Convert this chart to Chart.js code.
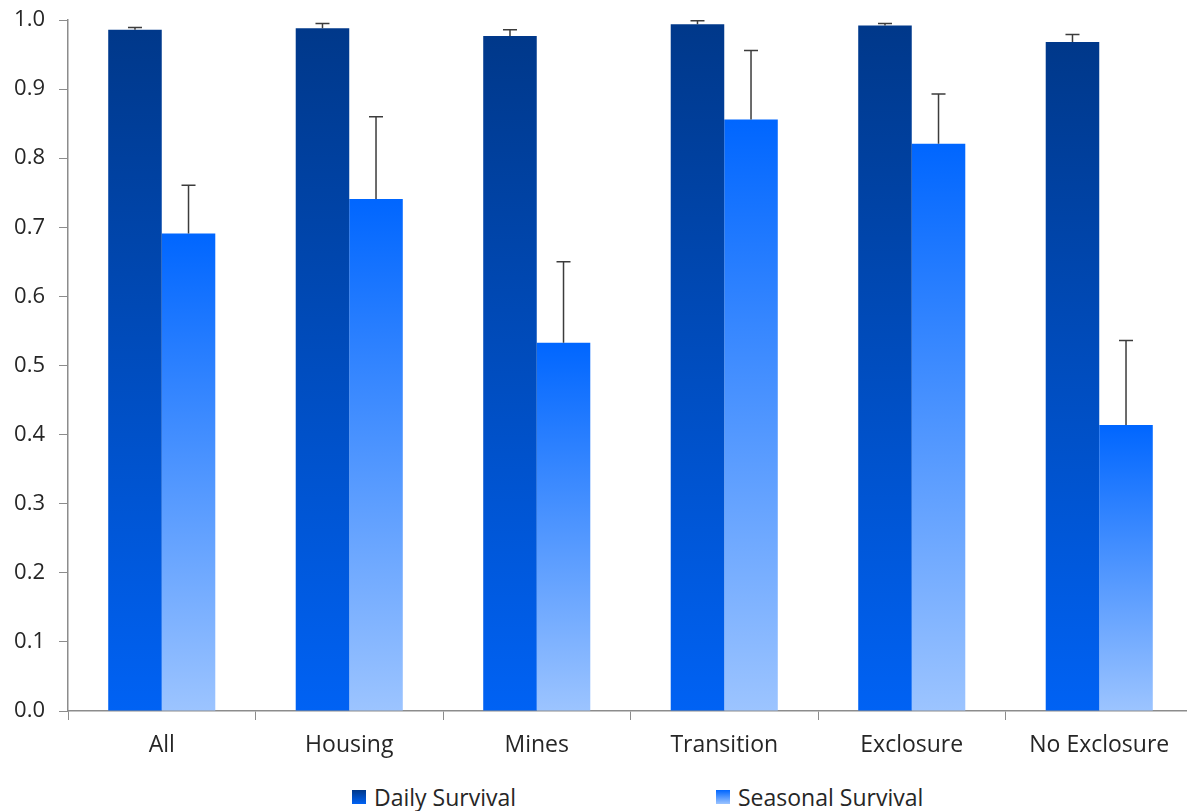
<!DOCTYPE html>
<html>
<head>
<meta charset="utf-8">
<script src="https://cdn.jsdelivr.net/npm/chart.js@4/dist/chart.umd.min.js"></script>
<style>
  html, body { margin: 0; padding: 0; background: #fff; overflow: hidden; }
  #wrap { position: relative; width: 1187px; height: 811px; overflow: hidden; }
  #c { position: absolute; left: 0; top: 0; }
  .lg { position: absolute; top: 784px; height: 26px; display: flex; align-items: center;
        font-family: "Open Sans", sans-serif; font-size: 23px; color: #262626; white-space: nowrap; }
  .lg .box { width: 14px; height: 14px; margin-right: 8px; }
</style>
</head>
<body>
<div id="wrap">
  <canvas id="c" width="1200" height="770"></canvas>
  <div id="legend"></div>
</div>
<script>
const categories = ["All", "Housing", "Mines", "Transition", "Exclosure", "No Exclosure"];
const dailySurvival = [0.986, 0.988, 0.977, 0.994, 0.992, 0.968];
const dailyError = [0.003, 0.007, 0.009, 0.005, 0.003, 0.011];
const seasonalSurvival = [0.691, 0.741, 0.533, 0.856, 0.821, 0.414];
const seasonalError = [0.070, 0.119, 0.117, 0.100, 0.072, 0.122];
const yTicks = [0.0, 0.1, 0.2, 0.3, 0.4, 0.5, 0.6, 0.7, 0.8, 0.9, 1.0];

const dailyColors = ["#00388a", "#0062f4"];
const seasonalColors = ["#0066ff", "#9cc4ff"];

function barGradient(ctx, colors) {
  const chart = ctx.chart;
  if (!chart.chartArea || ctx.type !== 'data') return colors[0];
  const ys = chart.scales.y;
  const v = ctx.raw;
  const top = ys.getPixelForValue(v);
  const bottom = ys.getPixelForValue(0);
  if (!isFinite(top) || !isFinite(bottom) || top === bottom) return colors[0];
  const g = chart.ctx.createLinearGradient(0, top, 0, bottom);
  g.addColorStop(0, colors[0]);
  g.addColorStop(1, colors[1]);
  return g;
}

const errorBars = {
  id: 'errorBars',
  afterDatasetsDraw(chart) {
    const c = chart.ctx;
    const ys = chart.scales.y;
    chart.data.datasets.forEach((ds, di) => {
      const meta = chart.getDatasetMeta(di);
      if (meta.hidden) return;
      meta.data.forEach((el, i) => {
        const v = ds.data[i];
        const e = ds.errorPlus[i];
        const yTop = ys.getPixelForValue(v + e);
        const yBase = ys.getPixelForValue(v);
        c.save();
        c.strokeStyle = '#3c3c3c';
        c.lineWidth = 1.5;
        c.beginPath();
        c.moveTo(el.x, yBase);
        c.lineTo(el.x, yTop);
        c.moveTo(el.x - 7, yTop);
        c.lineTo(el.x + 7, yTop);
        c.stroke();
        c.restore();
      });
    });
  }
};

const chart = new Chart(document.getElementById('c'), {
  type: 'bar',
  data: {
    labels: categories,
    datasets: [
      {
        label: 'Daily Survival',
        data: dailySurvival,
        errorPlus: dailyError,
        gradientColors: dailyColors,
        backgroundColor: (ctx) => barGradient(ctx, dailyColors),
        borderWidth: 0,
        categoryPercentage: 0.571,
        barPercentage: 1.0
      },
      {
        label: 'Seasonal Survival',
        data: seasonalSurvival,
        errorPlus: seasonalError,
        gradientColors: seasonalColors,
        backgroundColor: (ctx) => barGradient(ctx, seasonalColors),
        borderWidth: 0,
        categoryPercentage: 0.571,
        barPercentage: 1.0
      }
    ]
  },
  options: {
    responsive: false,
    animation: false,
    devicePixelRatio: 1,
    layout: { padding: { top: 20, right: 7, left: 0, bottom: 0 } },
    plugins: {
      legend: { display: false },
      tooltip: { enabled: false }
    },
    scales: {
      x: {
        offset: true,
        grid: { display: true, drawOnChartArea: false, drawTicks: true, tickLength: 9, color: '#8c8c8c', offset: true },
        border: { display: true, color: '#8c8c8c', width: 1.5 },
        ticks: { color: '#262626', font: { family: 'Open Sans', size: 23 }, padding: 12, maxRotation: 0 },
        afterFit(scale) { scale.height = 59; scale.paddingLeft = 0; scale.paddingRight = 0; }
      },
      y: {
        min: 0,
        max: 1,
        afterBuildTicks(scale) { scale.ticks = yTicks.map(v => ({ value: v })); },
        grid: { display: true, drawOnChartArea: false, drawTicks: true, tickLength: 9, color: '#8c8c8c' },
        border: { display: true, color: '#8c8c8c', width: 1.5 },
        ticks: { color: '#262626', font: { family: 'Open Sans', size: 22 }, padding: 14,
                 callback: (v) => Number(v).toFixed(1) },
        afterFit(scale) { scale.width = 68; scale.paddingTop = 0; scale.paddingBottom = 0; }
      }
    }
  },
  plugins: [errorBars]
});

// Legend built from the datasets
const legendLefts = [352, 716];
const legendEl = document.getElementById('legend');
chart.data.datasets.forEach((ds, i) => {
  const item = document.createElement('div');
  item.className = 'lg';
  item.style.left = legendLefts[i] + 'px';
  const box = document.createElement('span');
  box.className = 'box';
  box.style.background = 'linear-gradient(' + ds.gradientColors[0] + ',' + ds.gradientColors[1] + ')';
  const txt = document.createElement('span');
  txt.textContent = ds.label;
  item.appendChild(box);
  item.appendChild(txt);
  legendEl.appendChild(item);
});
</script>
</body>
</html>
